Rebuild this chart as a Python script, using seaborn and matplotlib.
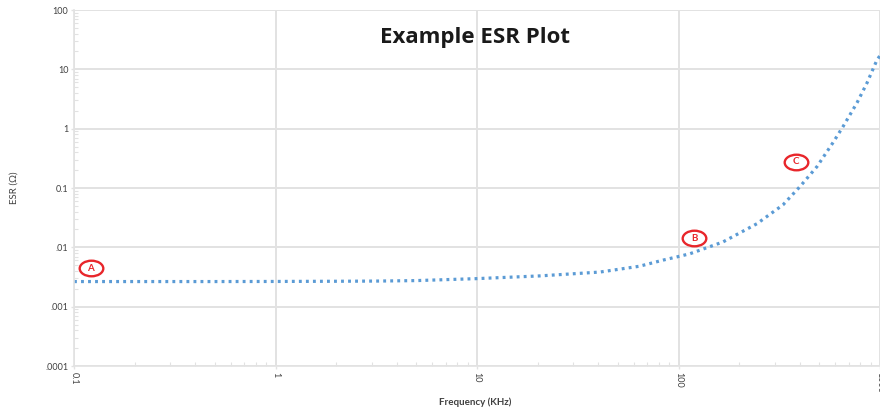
import numpy as np
import pandas as pd
import matplotlib
matplotlib.use("Agg")
import matplotlib.pyplot as plt
import matplotlib.ticker as mticker
from matplotlib.path import Path
from matplotlib.transforms import Affine2D
import seaborn as sns

# Frequency sweep (kHz) and measured equivalent series resistance (ohm)
freq_khz = [0.1, 0.2, 0.5, 1, 2, 3.16, 5, 10, 20.5, 40.7, 64, 84, 100, 114,
            166, 245, 330, 401, 487, 584, 655, 769, 862, 966, 1000]
esr_ohm = [0.00265, 0.00265, 0.00265, 0.00266, 0.00268, 0.0027, 0.00275,
           0.00297, 0.0033, 0.00383, 0.0048, 0.0061, 0.0070, 0.0078,
           0.0123, 0.025, 0.052, 0.106, 0.23, 0.58, 1.08, 2.73, 5.9,
           14.4, 17]

y_ticks = [0.0001, 0.001, 0.01, 0.1, 1, 10, 100]
y_tick_labels = [".0001", ".001", ".01", "0.1", "1", "10", "100"]
x_ticks = [0.1, 1, 10, 100, 1000]
x_tick_labels = ["0.1", "1", "10", "100", "1000"]

# Labelled regions of the curve: (letter, frequency, esr)
markers = [("A", 0.121, 0.0044), ("B", 119.5, 0.0142), ("C", 383, 0.278)]

sns.set_theme(style="white")
plt.rcParams["font.family"] = ["Lato", "DejaVu Sans"]

fig = plt.figure(figsize=(8.8, 4.07), dpi=100)
ax = fig.add_axes([74 / 880, 1 - 366 / 407, 806 / 880, 356 / 407])

df = pd.DataFrame({"freq": freq_khz, "esr": esr_ohm})
sns.lineplot(data=df, x="freq", y="esr", ax=ax, color="#5b9bd5",
             linewidth=2.3, linestyle=(0, (0.9, 1.3)), sort=True)

ax.set_xscale("log")
ax.set_yscale("log")
ax.set_xlim(0.1, 1000)
ax.set_ylim(0.0001, 100)

grid_c = "#e2e2e2"
ax.grid(True, which="major", color=grid_c, linewidth=1.4)
ax.set_axisbelow(True)
for side in ["top", "right"]:
    ax.spines[side].set_visible(False)
for side in ["left", "bottom"]:
    ax.spines[side].set_color(grid_c)
    ax.spines[side].set_linewidth(1.2)

ax.set_yticks(y_ticks)
ax.set_yticklabels(y_tick_labels)
ax.set_xticks(x_ticks)
ax.set_xticklabels(x_tick_labels, rotation=-90)
ax.yaxis.set_minor_locator(mticker.LogLocator(base=10, subs=np.arange(2, 10)))
ax.xaxis.set_minor_locator(mticker.LogLocator(base=10, subs=np.arange(2, 10)))
ax.yaxis.set_minor_formatter(mticker.NullFormatter())
ax.xaxis.set_minor_formatter(mticker.NullFormatter())
ax.tick_params(axis="both", which="major", length=2, width=1, color=grid_c,
               direction="out", labelsize=6.5, labelcolor="#404040", pad=2)
ax.tick_params(axis="both", which="minor", length=3, width=0.8, color=grid_c,
               direction="in")
ax.tick_params(axis="both", which="both", bottom=True, left=True)

ax.set_xlabel("Frequency (KHz)", fontsize=7, fontweight="bold",
              color="#404040")
ax.xaxis.set_label_coords(0.4975, -0.087)
ax.set_ylabel("ESR (Ω)", fontsize=7, color="#404040")
ax.yaxis.set_label_coords(-0.069, 0.5)

ax.text(0.4975, 0.924, "Example ESR Plot", transform=ax.transAxes,
        ha="center", va="center", fontsize=16, fontweight="bold",
        color="#1a1a1a", family=["Open Sans", "DejaVu Sans"])

# Flattened ellipse used as the outline around each region letter
oval = Path.unit_circle().transformed(Affine2D().scale(1.0, 0.66))
red = "#e8262b"
for letter, fx, fy in markers:
    ax.plot([fx], [fy], marker=oval, markersize=17, markerfacecolor="white",
            markeredgecolor=red, markeredgewidth=1.7, linestyle="none",
            zorder=4)
    ax.text(fx, fy, letter, ha="center", va="center", fontsize=7,
            fontweight="bold", color=red, zorder=5)

fig.savefig("out.png", dpi=100)
